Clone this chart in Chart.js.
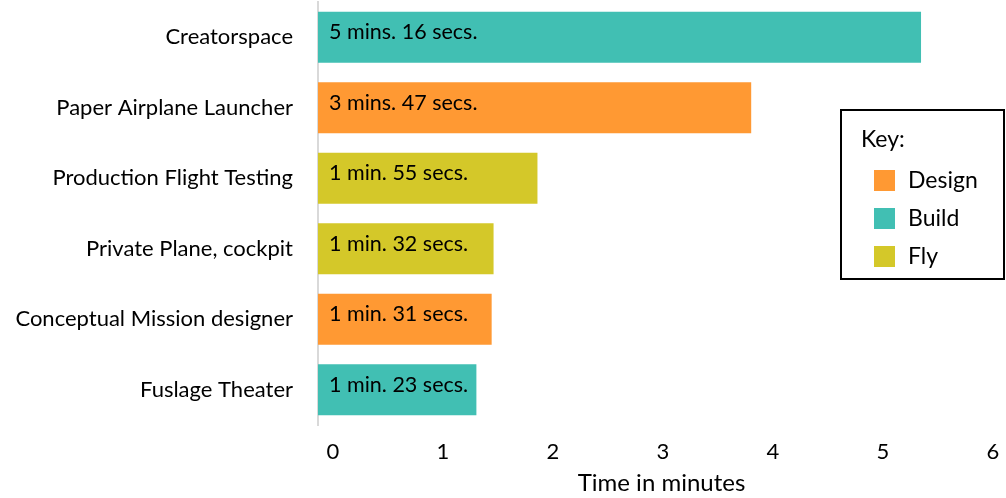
<!DOCTYPE html>
<html>
<head>
<meta charset="utf-8">
<script src="https://cdn.jsdelivr.net/npm/chart.js@4"></script>
<style>
  html, body { margin: 0; padding: 0; background: #fff; }
  canvas { display: block; }
</style>
</head>
<body>
<canvas id="TimeChart" width="1006" height="498"></canvas>
<script>
// ข้อมูลเวลาในแต่ละสถานี (วินาที)
const categories = ['Creatorspace', 'Paper Airplane Launcher', 'Production Flight Testing',
    'Private Plane, cockpit', 'Conceptual Mission designer', 'Fuslage Theater'];
const seconds = [316, 227, 115, 92, 91, 83];
const stageOf = ['Build', 'Design', 'Fly', 'Fly', 'Design', 'Build'];

const stages = ['Design', 'Build', 'Fly'];
const stageColors = ['#FF9933', '#41BFB3', '#D4C829'];
const tickValues = [0, 1, 2, 3, 4, 5, 6];

const FONT = 'Lato, "Open Sans", sans-serif';

function formatTime(s) {
    const m = Math.floor(s / 60);
    const sec = s % 60;
    return m + (m === 1 ? ' min. ' : ' mins. ') + sec + ' secs.';
}

// ข้อความเวลาในแท่ง
const barTextPlugin = {
    id: 'barText',
    afterDatasetsDraw(chart) {
        const { ctx } = chart;
        ctx.save();
        ctx.font = '21.5px ' + FONT;
        ctx.fillStyle = '#000';
        ctx.textAlign = 'left';
        ctx.textBaseline = 'middle';
        chart.data.datasets.forEach((ds, di) => {
            const meta = chart.getDatasetMeta(di);
            meta.data.forEach((bar, i) => {
                if (ds.data[i] == null) return;
                ctx.fillText(formatTime(seconds[i]), bar.base + 11, bar.y - 5);
            });
        });
        ctx.restore();
    }
};

// กล่อง Key: ด้านขวา
const keyBoxPlugin = {
    id: 'keyBox',
    afterDraw(chart) {
        const { ctx } = chart;
        ctx.save();
        ctx.fillStyle = '#fff';
        ctx.fillRect(841, 110, 163, 169);
        ctx.strokeStyle = '#000';
        ctx.lineWidth = 2;
        ctx.strokeRect(841, 110, 163, 169);
        ctx.font = '23px ' + FONT;
        ctx.textBaseline = 'middle';
        ctx.fillStyle = '#000';
        ctx.fillText('Key:', 861, 140);
        chart.data.datasets.forEach((ds, i) => {
            const y = 180 + i * 38;
            ctx.fillStyle = ds.backgroundColor;
            ctx.fillRect(874, y - 10, 21, 21);
            ctx.fillStyle = '#000';
            ctx.fillText(ds.label, 908, y + 1);
        });
        ctx.restore();
    }
};

const datasets = stages.map((name, k) => ({
    label: name,
    data: seconds.map((s, i) => stageOf[i] === name ? s / 60 : null),
    backgroundColor: stageColors[k],
    borderWidth: 0,
    grouped: false,
    categoryPercentage: 1,
    barPercentage: 0.72
}));

const config = {
    type: 'bar',
    data: { labels: categories, datasets: datasets },
    options: {
        indexAxis: 'y',
        responsive: false,
        animation: false,
        devicePixelRatio: 1,
        layout: { padding: { top: 2, right: 1, left: 0, bottom: 0 } },
        scales: {
            x: {
                display: false,
                min: 0,
                max: 6
            },
            // แกนสำหรับป้ายตัวเลขด้านล่าง
            xLabels: {
                type: 'linear',
                position: 'bottom',
                min: -15 / 110,
                max: (687 - 15) / 110,
                afterBuildTicks(scale) {
                    scale.ticks = tickValues.map(v => ({ value: v }));
                },
                afterFit(scale) {
                    scale.height = 73;
                    scale.paddingLeft = 0;
                    scale.paddingRight = 0;
                },
                grid: { display: false },
                border: { display: false },
                ticks: {
                    color: '#000',
                    font: { family: FONT, size: 22 },
                    padding: 6
                },
                title: {
                    display: true,
                    text: 'Time in minutes',
                    color: '#000',
                    font: { family: FONT, size: 24 },
                    padding: { top: 0, bottom: 0 }
                }
            },
            y: {
                afterFit(scale) {
                    scale.width = 318;
                    scale.paddingTop = 0;
                    scale.paddingBottom = 0;
                },
                grid: { display: false },
                border: { display: true, color: '#D9D9D9', width: 2 },
                ticks: {
                    color: '#000',
                    font: { family: FONT, size: 22 },
                    padding: 17
                }
            }
        },
        plugins: {
            legend: { display: false },
            tooltip: { enabled: false }
        }
    },
    plugins: [barTextPlugin, keyBoxPlugin]
};

new Chart(document.getElementById('TimeChart'), config);
</script>
</body>
</html>
